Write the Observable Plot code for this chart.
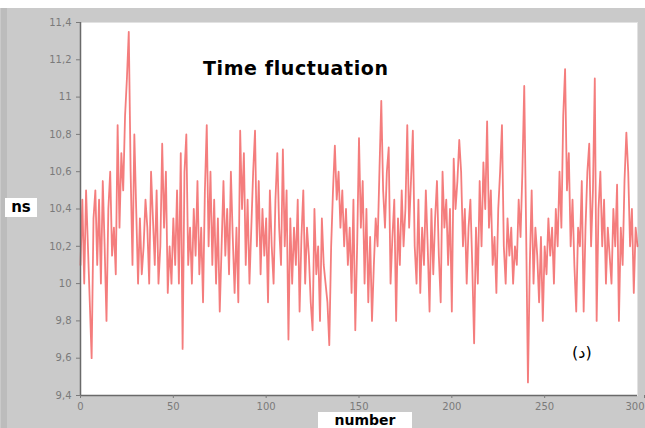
<!DOCTYPE html>
<html>
<head>
<meta charset="utf-8">
<script src="https://cdn.jsdelivr.net/npm/d3@7"></script>
<script src="https://cdn.jsdelivr.net/npm/@observablehq/plot@0.6"></script>
<style>
  html, body { margin: 0; padding: 0; }
  body { width: 645px; height: 428px; overflow: hidden; background: #cacaca; position: relative; font-family: "DejaVu Sans", sans-serif; }
  #topstrip { position: absolute; left: 0; top: 0; width: 645px; height: 8px; background: #ffffff; }
  #leftstrip { position: absolute; left: 1px; top: 8px; width: 6px; height: 420px; background: #bcbcbc; }
  #chart { position: absolute; left: 0; top: 0; }
  .lbl { position: absolute; background: #fff; color: #000; font-weight: bold; white-space: nowrap; }
  #title { position: absolute; left: 203px; top: 57px; font-size: 19px; letter-spacing: 0.6px; font-weight: bold; color: #000; white-space: nowrap; }
  #ns { left: 5px; top: 198px; width: 32px; height: 19px; font-size: 15px; line-height: 19px; text-align: center; }
  #xl { left: 318px; top: 412px; width: 94px; height: 16px; font-size: 14px; line-height: 17px; text-align: center; }
  #tag { position: absolute; left: 572px; top: 343px; font-size: 16px; color: #000; }
</style>
</head>
<body>
<div id="topstrip"></div>
<div id="leftstrip"></div>
<div id="chart"></div>
<div id="title">Time fluctuation</div>
<div class="lbl" id="ns">ns</div>
<div class="lbl" id="xl">number</div>
<div id="tag">(د)</div>
<script>
// Time fluctuation samples (ns), sample number 0..300
const values = [
  10.1, 10.45, 10.0, 10.5, 10.2, 9.9, 9.6, 10.35, 10.5, 10.1,
  10.45, 10.0, 10.55, 10.2, 9.8, 10.4, 10.6, 10.15, 10.3, 10.05,
  10.85, 10.3, 10.7, 10.5, 10.9, 11.1, 11.35, 10.6, 10.1, 10.8,
  10.4, 10.0, 10.35, 10.05, 10.2, 10.45, 10.3, 10.0, 10.6, 10.35,
  10.1, 10.5, 10.0, 10.2, 10.75, 10.3, 10.6, 9.95, 10.2, 10.0,
  10.35, 10.1, 10.5, 10.0, 10.7, 9.65, 10.6, 10.8, 10.1, 10.3,
  10.0, 10.4, 10.15, 10.55, 10.05, 10.3, 9.9, 10.5, 10.85, 10.2,
  10.6, 10.1, 10.45, 10.0, 10.35, 9.85, 10.2, 10.55, 10.15, 10.4,
  10.05, 10.6, 10.25, 9.95, 10.3, 9.9, 10.82, 10.4, 10.7, 10.1,
  10.45, 10.0, 10.3, 10.6, 10.82, 10.2, 10.55, 10.05, 10.4, 10.15,
  10.35, 9.9, 10.5, 10.2, 10.0, 10.45, 10.7, 10.3, 10.1, 10.72,
  10.2, 10.5, 9.7, 10.35, 10.0, 10.3, 10.1, 10.45, 9.85, 10.25,
  10.5, 10.0, 10.3, 10.15, 9.9, 9.75, 10.4, 10.05, 10.2, 9.8,
  10.35, 10.1, 10.0, 9.9, 9.67, 10.2, 10.5, 10.74, 10.45, 10.6,
  10.3, 10.5, 10.2, 10.4, 10.1, 10.3, 9.95, 10.45, 9.75, 10.2,
  10.78, 10.3, 10.55, 10.0, 10.4, 9.9, 10.25, 9.8, 10.1, 10.35,
  10.2, 10.6, 10.98, 10.5, 10.3, 10.6, 10.73, 10.0, 10.25, 10.45,
  9.8, 10.35, 10.1, 10.5, 10.2, 10.4, 10.85, 10.3, 10.55, 10.82,
  10.2, 10.0, 10.45, 9.95, 10.3, 10.1, 10.5, 10.2, 9.85, 10.4,
  10.05, 10.35, 10.55, 10.15, 9.9, 10.6, 10.3, 10.45, 10.1, 10.4,
  9.85, 10.67, 10.4, 10.55, 10.77, 10.6, 10.2, 10.4, 10.0, 10.3,
  10.45, 10.1, 9.68, 10.3, 10.0, 10.55, 10.2, 10.65, 10.4, 10.87,
  10.3, 10.5, 10.1, 10.25, 9.95, 10.4, 10.6, 10.85, 10.2, 10.0,
  10.35, 10.15, 10.3, 10.0, 10.2, 10.1, 10.45, 10.25, 10.6, 11.06,
  10.3, 9.47, 10.1, 10.5, 10.0, 10.3, 10.15, 9.9, 10.25, 9.8,
  10.2, 10.05, 10.35, 10.15, 10.3, 10.0, 10.4, 10.2, 10.6, 10.3,
  10.9, 11.15, 10.5, 10.7, 10.2, 10.45, 10.1, 9.85, 10.3, 10.2,
  10.55, 9.85, 10.3, 10.6, 10.75, 10.2, 10.5, 11.1, 9.8, 10.4,
  10.6, 10.2, 10.45, 10.0, 10.3, 10.15, 10.0, 10.4, 10.2, 10.53,
  9.8, 10.3, 10.1, 10.55, 10.81, 10.6, 10.2, 10.4, 9.95, 10.3,
  10.2
];
const xTicks = [0, 50, 100, 150, 200, 250, 300];
const yTicks = [9.4, 9.6, 9.8, 10, 10.2, 10.4, 10.6, 10.8, 11, 11.2, 11.4];
const xDomain = [0, 300];
const yDomain = [9.4, 11.4];

const data = values.map((v, i) => ({n: i, t: v}));
const fmt = d => (Number.isInteger(d) ? String(d) : d.toFixed(1).replace(".", ","));
const lastX = xTicks[xTicks.length - 1];

const chart = Plot.plot({
  width: 645,
  height: 428,
  marginLeft: 80,
  marginRight: 8,
  marginTop: 22,
  marginBottom: 33,
  style: {background: "transparent", fontFamily: "DejaVu Sans, sans-serif", fontSize: "10px", color: "#7a7a7a"},
  x: {domain: xDomain, label: null},
  y: {domain: yDomain, label: null},
  marks: [
    Plot.frame({fill: "white", stroke: "#e2e2e2"}),
    Plot.lineY(data, {x: "n", y: "t", stroke: "#ef4040", strokeWidth: 1.8, strokeOpacity: 0.68}),
    Plot.ruleX([xDomain[0]], {stroke: "#6a6a6a", strokeWidth: 1.5}),
    Plot.ruleY([yDomain[0]], {stroke: "#6a6a6a", strokeWidth: 1.5}),
    Plot.axisY({ticks: yTicks, tickFormat: fmt, tickSize: 4, tickPadding: 5, label: null}),
    Plot.axisX({ticks: xTicks.filter(d => d !== lastX), tickFormat: d => String(d), tickSize: 3, tickPadding: 4, label: null}),
    Plot.axisX({ticks: [lastX], tickFormat: d => String(d), tickSize: 3, tickPadding: 4, textAnchor: "end", dx: 7, label: null})
  ]
});
document.getElementById("chart").appendChild(chart);
</script>
</body>
</html>
